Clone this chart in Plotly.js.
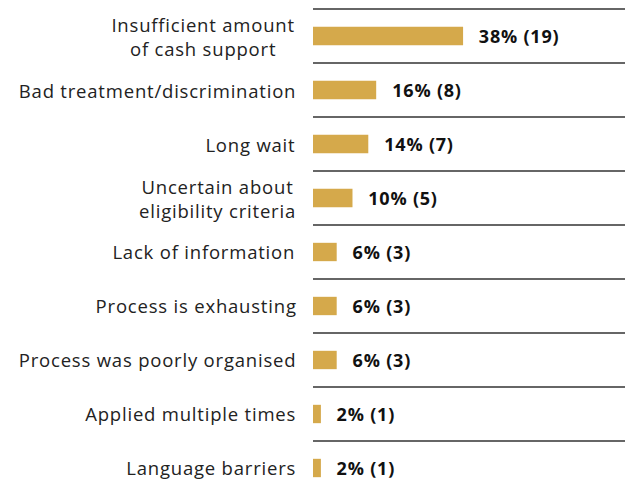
<!DOCTYPE html>
<html><head><meta charset="utf-8">
<script src="https://cdn.plot.ly/plotly-3.0.1.min.js"></script>
<style>html,body{margin:0;padding:0;background:#fff;}
#chart .annotation-text{letter-spacing:0.8px;}
</style>
</head><body>
<div id="chart" style="width:625px;height:483px;"></div>
<script>
const categories = [
  "Insufficient amount<br>of cash support",
  "Bad treatment/discrimination",
  "Long wait",
  "Uncertain about<br>eligibility criteria",
  "Lack of information",
  "Process is exhausting",
  "Process was poorly organised",
  "Applied multiple times",
  "Language barriers"
];
const percents = [38, 16, 14, 10, 6, 6, 6, 2, 2];
const counts = [19, 8, 7, 5, 3, 3, 3, 1, 1];

const FONT = "'Open Sans', sans-serif";
const SPACING = 0.8;
const idx = categories.map((_, i) => i);

const annotations = [];
categories.forEach((c, i) => {
  const longest = Math.max(...c.split('<br>').map(s => s.length));
  annotations.push({
    xref: 'paper', yref: 'y', x: 0, y: i, xanchor: 'right', yanchor: 'middle',
    xshift: -15 - longest * SPACING / 2, text: c, showarrow: false, align: 'center',
    font: {family: FONT, size: 18.5, color: '#222'}
  });
  const lbl = percents[i] + '% (' + counts[i] + ')';
  annotations.push({
    xref: 'x', yref: 'y', x: percents[i], y: i, xanchor: 'left', yanchor: 'middle',
    xshift: 14 + lbl.length * SPACING / 2, text: '<b>' + lbl + '</b>', showarrow: false,
    font: {family: FONT, size: 18, color: '#111'}
  });
});

const shapes = [];
for (let k = 0; k < categories.length; k++) {
  shapes.push({type: 'line', xref: 'paper', yref: 'y', x0: 0, x1: 1, y0: k - 0.5, y1: k - 0.5,
    line: {color: '#333', width: 1.3}});
}

Plotly.newPlot('chart', [{
  type: 'bar', orientation: 'h', x: percents, y: idx, width: 0.34,
  marker: {color: '#D5A94B'}, hoverinfo: 'none'
}], {
  width: 625, height: 483,
  margin: {l: 313, r: 0, t: 0, b: 0},
  paper_bgcolor: '#fff', plot_bgcolor: '#fff',
  showlegend: false,
  xaxis: {range: [0, 79], visible: false, fixedrange: true},
  yaxis: {range: [8.278, -0.6667], visible: false, fixedrange: true},
  annotations: annotations,
  shapes: shapes
}, {displayModeBar: false, staticPlot: true});
</script>
</body></html>
